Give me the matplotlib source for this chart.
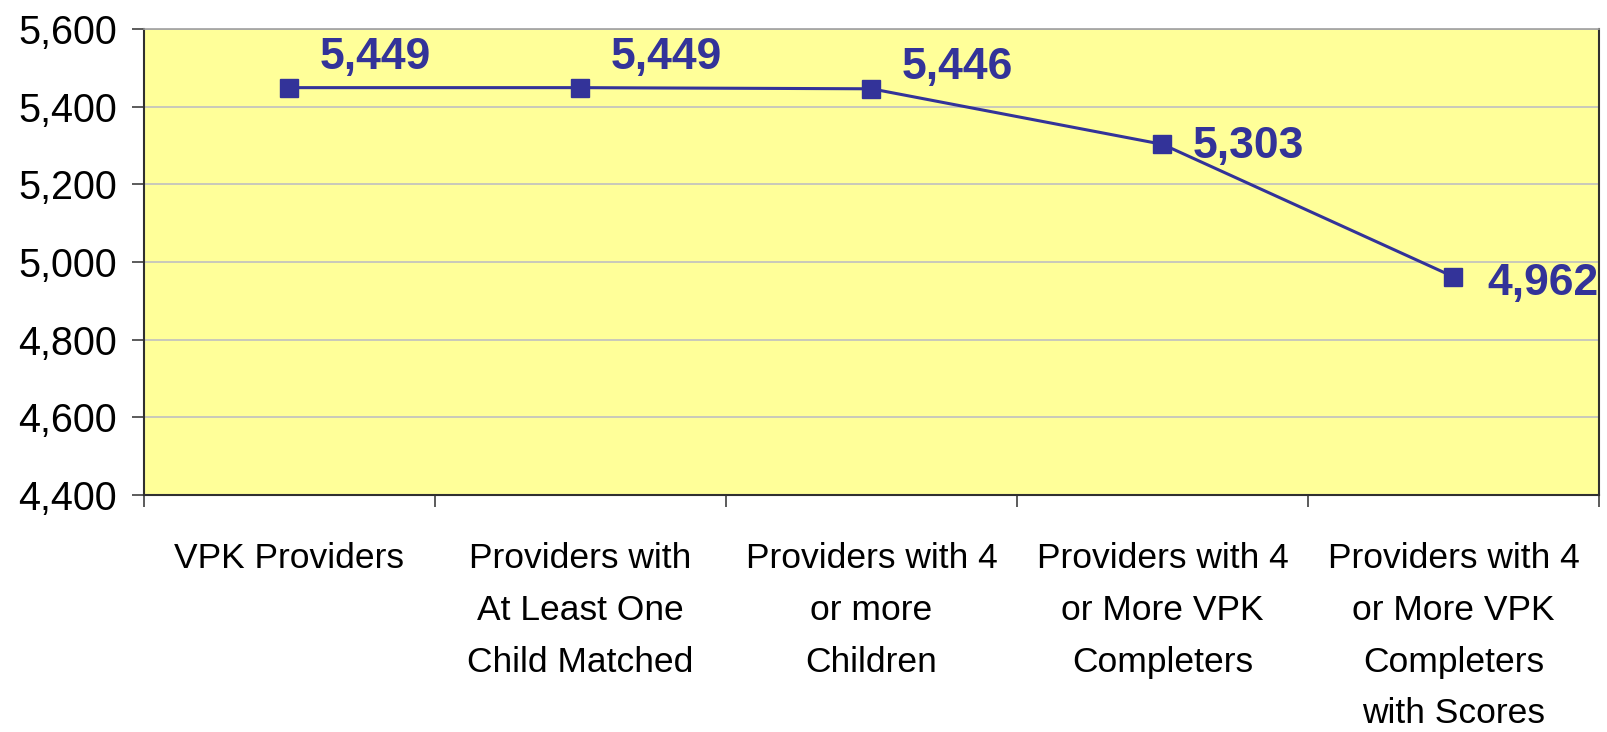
import matplotlib
matplotlib.use("Agg")
import matplotlib.pyplot as plt
from matplotlib.ticker import FuncFormatter

categories = [
    "VPK Providers",
    "Providers with\nAt Least One\nChild Matched",
    "Providers with 4\nor more\nChildren",
    "Providers with 4\nor More VPK\nCompleters",
    "Providers with 4\nor More VPK\nCompleters\nwith Scores",
]
values = [5449, 5449, 5446, 5303, 4962]
label_offsets = [(30, 30), (30, 30), (30, 21), (30, -2), (34, -7)]  # pixels

plt.rcParams['font.family'] = ['Liberation Sans', 'DejaVu Sans']
DPI = 100
PX = 72 / DPI
fig = plt.figure(figsize=(16.08, 7.32), dpi=DPI)
W, H = 1608, 732
left, right, top, bottom = 144, 1599, 29, 495
ax = fig.add_axes([left / W, 1 - bottom / H, (right - left) / W, (bottom - top) / H])
ax.set_facecolor('#FFFF99')

x = list(range(len(values)))
ax.plot(x, values, color='#333399', lw=2.2, marker='s', markersize=13.5, zorder=3)

for xi, v, (dx, dy) in zip(x, values, label_offsets):
    ax.annotate(f"{v:,}", (xi, v), xytext=(dx * PX, dy * PX), textcoords='offset points',
                ha='left', va='center', fontsize=32, fontweight='bold', color='#333399', zorder=4)

ax.set_xlim(-0.5, len(values) - 0.5)
ax.set_ylim(4400, 5600)
ax.set_yticks(range(4400, 5601, 200))
ax.yaxis.set_major_formatter(FuncFormatter(lambda v, p: f"{int(v):,}"))
ax.yaxis.grid(True, color='#C0C0C0', lw=1.2)
ax.set_axisbelow(True)

ax.set_xticks([i for i in x])
ax.set_xticklabels(categories, fontsize=25.5, linespacing=1.72)
ax.set_xticks([i - 0.5 for i in range(len(values) + 1)], minor=True)
ax.tick_params(axis='x', which='major', length=0, pad=34)
ax.tick_params(axis='x', which='minor', length=12 * PX, width=1.2, color='#404040')
ax.tick_params(axis='y', which='major', length=12 * PX, width=1.2, color='#404040',
               labelsize=28.5, pad=15 * PX)

for s in ['left', 'bottom', 'right']:
    ax.spines[s].set_color('#303030')
    ax.spines[s].set_linewidth(1.5)
ax.spines['top'].set_color('#A0A0A0')
ax.spines['top'].set_linewidth(1.2)

fig.savefig('out.png', dpi=DPI)
